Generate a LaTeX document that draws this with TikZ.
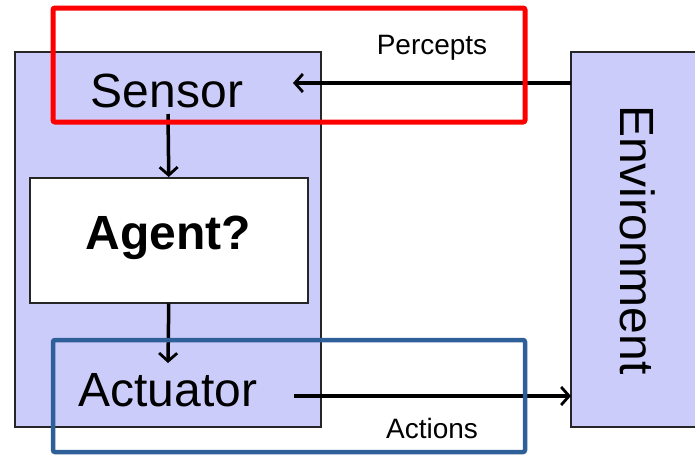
\documentclass[tikz,border=0pt]{standalone}
\usepackage{fontspec}
\setmainfont{Liberation Sans}
\usetikzlibrary{arrows.meta}
\definecolor{panel}{RGB}{204,204,250}
\definecolor{frameblue}{RGB}{47,95,152}
\tikzset{
  x=1pt, y=-1pt,
  panelbox/.style={draw=black!85, line width=1.5pt, fill=panel},
  innerbox/.style={draw=black!85, line width=1.5pt, fill=white},
  flow/.style={line width=3.5pt, -{Straight Barb[length=8pt, width=18pt, line width=2.8pt]}},
  highlight/.style={line width=5pt, rounded corners=2pt},
  bigtext/.style={font=\fontsize{48}{50}\selectfont, inner sep=0pt},
  smalltext/.style={font=\fontsize{28}{30}\selectfont, inner sep=0pt}
}
\begin{document}
\begin{tikzpicture}
\useasboundingbox (0,0) rectangle (695,456);

% agent and environment panels
\draw[panelbox] (15,52) rectangle (321,427);
\draw[panelbox] (571,52) rectangle (705,427);
\node[rotate=-90, bigtext] (env) at (638,240) {Environment};
\coordinate (envL1) at (571,83);
\coordinate (envL2) at (571,396);

% inner agent box
\node[innerbox, minimum width=278pt, minimum height=125pt, anchor=north west] (agent) at (29,177) {};
\node[bigtext, font=\fontsize{48}{50}\selectfont\bfseries] (agentlbl) at (168,238) {Agent?};

% sensor and actuator labels
\node[bigtext] (sensor) at (167,91) {Sensor};
\node[bigtext] (actuator) at (168,390) {Actuator};
\coordinate (sensIn) at (293,83);
\coordinate (actOut) at (294,396);
\coordinate (sensOut) at (168,114);
\coordinate (actIn) at (168,363);

% internal flow
\draw[flow] (sensOut) -- (agent.north |- 0,177);
\draw[flow] (agent.south) -- (actIn);

% percepts and actions
\draw[flow] (envL1) -- (sensIn);
\draw[flow] (actOut) -- (envL2);
\node[smalltext] (percepts) at (432,48) {Percepts};
\node[smalltext] (actions) at (432,428) {Actions};

% highlight frames
\draw[highlight, red] (53,8) rectangle (525,122);
\draw[highlight, frameblue, line width=4.5pt] (53,340) rectangle (525,452);
\end{tikzpicture}
\end{document}
